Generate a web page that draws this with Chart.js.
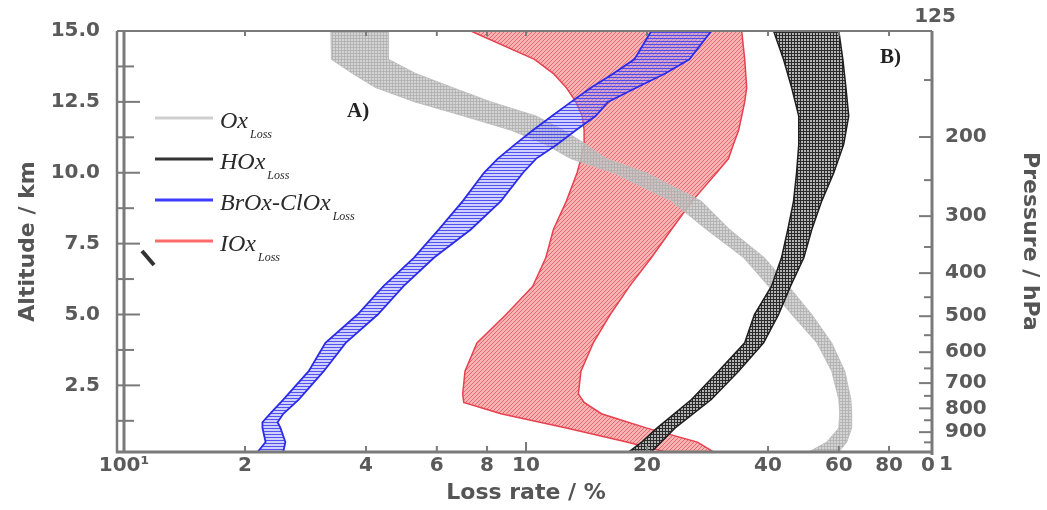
<!DOCTYPE html>
<html>
<head>
<meta charset="utf-8">
<title>Loss rate profiles</title>
<script src="https://cdn.jsdelivr.net/npm/chart.js@4.4.1/dist/chart.umd.min.js"></script>
<style>
    html, body { margin: 0; padding: 0; background: #fff; }
    #wrap { position: relative; width: 1047px; height: 510px; }
</style>
</head>
<body>
<div id="wrap"><canvas id="lossChart" width="1047" height="510"></canvas></div>
<script>
// altitude (km) with lower / upper loss rate (%) for each family
var oxAlt = [15, 14, 13.5, 13, 12.5, 12, 11.5, 11, 10.5, 10, 9, 8, 7, 6, 5, 4, 3, 2, 1.5, 1, 0.5, 0.15];
var oxMin = [3.27, 3.28, 3.7, 4.23, 5.29, 7.0, 9.18, 11.2, 12.9, 16.5, 23.0, 28.1, 34.8, 40.1, 45.8, 52.9, 57.6, 60.0, 60.3, 60.0, 56.0, 50.5];
var oxMax = [4.55, 4.55, 5.32, 6.58, 8.18, 10.6, 12.4, 14.1, 15.8, 19.9, 27.3, 32.1, 39.2, 45.0, 51.4, 57.6, 62.1, 64.3, 64.6, 64.6, 62.8, 60.0];

var hoxAlt = [15, 14, 13, 12, 11, 10, 9, 8, 7, 6, 5, 4, 3, 2, 1, 0.5, 0.15];
var hoxMin = [41.3, 43.7, 45.8, 47.7, 47.7, 47.1, 46.3, 44.8, 43.2, 40.8, 37.0, 35.0, 30.1, 25.8, 21.2, 19.4, 18.0];
var hoxMax = [60.0, 61.4, 62.5, 63.5, 61.7, 58.3, 54.4, 51.4, 49.1, 45.5, 42.5, 39.0, 33.8, 28.9, 23.5, 21.7, 20.5];

var broxAlt = [15, 14, 13.5, 13, 12.5, 12, 11.5, 11, 10.5, 10, 9, 8, 7, 6, 5, 4, 3, 2, 1.5, 1.2, 1, 0.5, 0.15];
var broxMin = [20.5, 18.6, 16.5, 14.5, 12.95, 11.6, 10.4, 9.39, 8.51, 7.86, 6.96, 6.07, 5.26, 4.42, 3.81, 3.17, 2.88, 2.49, 2.31, 2.21, 2.21, 2.25, 2.15];
var broxMax = [28.9, 25.5, 22.2, 18.8, 16.0, 14.9, 13.3, 11.95, 10.6, 9.83, 8.66, 7.29, 5.90, 4.96, 4.28, 3.56, 3.14, 2.72, 2.49, 2.41, 2.45, 2.52, 2.49];

var ioxAlt = [15, 14, 13.5, 13, 12.5, 12, 11.5, 11, 10.5, 10, 9, 8, 7, 6, 5, 4, 3, 2.2, 1.9, 1.5, 1, 0.5, 0.15];
var ioxMin = [7.29, 10.5, 11.7, 12.6, 13.3, 13.8, 13.95, 13.95, 13.7, 13.4, 12.6, 11.7, 11.2, 10.4, 8.92, 7.55, 7.05, 6.96, 7.0, 8.66, 12.6, 17.8, 22.3];
var ioxMax = [34.4, 35.0, 35.2, 35.4, 35.0, 34.4, 33.8, 32.8, 31.9, 29.8, 25.9, 23.0, 20.5, 18.1, 16.2, 14.7, 13.7, 13.5, 13.95, 15.4, 19.9, 26.7, 29.3];

// axes
var lossTicks = [1, 2, 4, 6, 8, 10, 20, 40, 60, 80, 100];
var lossTickLabels = ['100\u00b9', '2', '4', '6', '8', '10', '20', '40', '60', '80', '0'];
var altTicks = [2.5, 5, 7.5, 10, 12.5, 15];
var altMinor = [1.25, 3.75, 6.25, 8.75, 11.25, 13.75];
var pressureLabels = ['200', '300', '400', '500', '600', '700', '800', '900'];
var pressureAlt = [11.26, 8.47, 6.46, 4.94, 3.67, 2.58, 1.69, 0.85];
var pressureMinorAlt = [13.27, 9.74, 7.38, 5.61, 4.27, 3.10, 2.13, 1.27, 0.49];
var pressureEndLabels = ['125', '1'];

var legendNames = ['Ox', 'HOx', 'BrOx-ClOx', 'IOx'];
var legendColors = ['#cfcfcf', '#333333', '#3d3dff', '#ff6b6b'];

Chart.defaults.font.family = "'DejaVu Sans', Arial, sans-serif";

// closed polygon: lower edge top->bottom, upper edge back up
function band(alt, lo, hi) {
    var pts = [];
    for (var i = 0; i < alt.length; i++) pts.push({x: lo[i], y: alt[i]});
    for (var j = alt.length - 1; j >= 0; j--) pts.push({x: hi[j], y: alt[j]});
    return pts;
}

function hatch(bg, stroke, kind, size) {
    var c = document.createElement('canvas');
    c.width = size; c.height = size;
    var g = c.getContext('2d');
    g.fillStyle = bg;
    g.fillRect(0, 0, size, size);
    g.strokeStyle = stroke;
    g.lineWidth = 1;
    g.beginPath();
    if (kind === 'h' || kind === 'grid') { g.moveTo(0, size - 0.5); g.lineTo(size, size - 0.5); }
    if (kind === 'grid') { g.moveTo(size - 0.5, 0); g.lineTo(size - 0.5, size); }
    if (kind === 'diag') {
        g.moveTo(0, size); g.lineTo(size, 0);
        g.moveTo(-1, 1); g.lineTo(1, -1);
        g.moveTo(size - 1, size + 1); g.lineTo(size + 1, size - 1);
    }
    g.stroke();
    return g.createPattern(c, 'repeat');
}

function bandSet(label, pts, border, width, fillStyle) {
    return {
        label: label,
        data: pts,
        borderColor: border,
        borderWidth: width,
        backgroundColor: fillStyle,
        fill: 'shape',
        pointRadius: 0,
        tension: 0
    };
}

// vertical axes: fixed width, no extra room above/below for end labels
function fixWidth(w) {
    return function(s) {
        s.width = w;
        s.paddingTop = 0;
        s.paddingBottom = 0;
    };
}

var framePlugin = {
    id: 'frame',
    afterDraw: function(chart) {
        var c = chart.ctx, a = chart.chartArea;
        var xs = chart.scales.x, ys = chart.scales.y, ps = chart.scales.y2;
        var i, px;
        function seg(x1, y1, x2, y2) { c.beginPath(); c.moveTo(x1, y1); c.lineTo(x2, y2); c.stroke(); }

        c.save();
        c.strokeStyle = '#7a7a7a';
        c.lineWidth = 2; seg(a.left - 7, a.top, a.right + 4, a.top);
        c.lineWidth = 3; seg(a.left - 8, a.bottom, a.right + 4, a.bottom);
        c.lineWidth = 3; seg(a.left, a.top, a.left, a.bottom);
        c.lineWidth = 2.5; seg(a.left - 7, a.top, a.left - 7, a.bottom + 1);
        c.lineWidth = 3; seg(a.right + 4, a.top, a.right + 4, a.bottom + 3);

        // inward tick marks
        c.lineWidth = 2;
        for (i = 0; i < altTicks.length; i++) {
            px = ys.getPixelForValue(altTicks[i]);
            seg(a.left - 7, px, a.left + 16, px);
        }
        for (i = 0; i < altMinor.length; i++) {
            px = ys.getPixelForValue(altMinor[i]);
            seg(a.left - 7, px, a.left + 10, px);
        }
        for (i = 1; i < lossTicks.length - 1; i++) {
            px = xs.getPixelForValue(lossTicks[i]);
            seg(px, a.bottom, px, a.bottom - (lossTicks[i] === 10 ? 10 : 6));
            seg(px, a.top, px, a.top + 5);
        }
        for (i = 0; i < pressureAlt.length; i++) {
            px = ps.getPixelForValue(pressureAlt[i]);
            seg(a.right + 4, px, a.right - 9, px);
        }
        for (i = 0; i < pressureMinorAlt.length; i++) {
            px = ps.getPixelForValue(pressureMinorAlt[i]);
            seg(a.right + 4, px, a.right - 4, px);
        }

        // pressure labels sitting past the axis ends
        c.fillStyle = '#5a5a5a';
        c.font = "bold 20px 'DejaVu Sans'";
        c.textAlign = 'center';
        c.textBaseline = 'middle';
        c.fillText(pressureEndLabels[0], a.right + 7, ps.getPixelForValue(15) - 14);
        c.fillText(pressureEndLabels[1], a.right + 18, ps.getPixelForValue(0.15) + 13);

        // panel letters
        c.fillStyle = '#222';
        c.font = "bold 21px 'Liberation Serif', 'DejaVu Serif', serif";
        c.textAlign = 'left';
        c.fillText('A)', 347, 112);
        c.fillText('B)', 880, 58);

        // stray mark left of the legend
        c.strokeStyle = '#333';
        c.lineWidth = 4;
        seg(142, 251, 154, 265);

        // legend
        for (i = 0; i < legendNames.length; i++) {
            var ly = 118 + i * 41;
            c.strokeStyle = legendColors[i];
            c.lineWidth = 3;
            seg(155, ly, 213, ly);
            c.fillStyle = '#2a2a2a';
            c.textBaseline = 'alphabetic';
            c.font = "italic 24px 'Liberation Serif', 'DejaVu Serif', serif";
            c.fillText(legendNames[i], 220, ly + 10);
            var w = c.measureText(legendNames[i]).width;
            c.font = "italic 12px 'Liberation Serif', 'DejaVu Serif', serif";
            c.fillText('Loss', 222 + w, ly + 20);
        }
        c.restore();
    }
};

var tickFont = {family: "'DejaVu Sans'", size: 20, weight: 'bold'};
var titleFont = {family: "'DejaVu Sans'", size: 22, weight: 'bold'};

var lossChart = new Chart(document.getElementById('lossChart'), {
    type: 'line',
    data: {
        datasets: [
            bandSet('HOx', band(hoxAlt, hoxMin, hoxMax), '#1e1e1e', 1.5, hatch('#b4b4b4', '#2a2a2a', 'grid', 3)),
            bandSet('BrOx-ClOx', band(broxAlt, broxMin, broxMax), '#2b2bea', 1.8, hatch('rgba(150,150,255,0.45)', 'rgba(60,60,240,0.85)', 'h', 3)),
            bandSet('Ox', band(oxAlt, oxMin, oxMax), 'rgba(190,190,190,0.9)', 1, hatch('rgba(200,200,200,0.8)', 'rgba(175,175,175,0.8)', 'grid', 3)),
            bandSet('IOx', band(ioxAlt, ioxMin, ioxMax), '#e8404f', 1.5, hatch('rgba(248,160,160,0.8)', 'rgba(220,80,90,0.75)', 'diag', 4))
        ]
    },
    options: {
        responsive: false,
        animation: false,
        layout: {padding: {top: 31, left: 0, right: 0, bottom: 0}},
        plugins: {
            legend: {display: false},
            tooltip: {enabled: false}
        },
        scales: {
            x: {
                type: 'logarithmic',
                min: 1,
                max: 100,
                bounds: 'data',
                afterBuildTicks: function(s) { s.ticks = lossTicks.map(function(v) { return {value: v}; }); },
                afterFit: function(s) { s.height = 58; },
                grid: {display: false, drawTicks: false},
                border: {display: false},
                ticks: {
                    autoSkip: false,
                    maxRotation: 0,
                    padding: 2,
                    color: '#5a5a5a',
                    font: tickFont,
                    callback: function(v, i) { return lossTickLabels[i]; }
                },
                title: {display: true, text: 'Loss rate / %', color: '#555', font: titleFont, padding: {top: 0, bottom: 4}}
            },
            y: {
                type: 'linear',
                position: 'left',
                min: 0.15,
                max: 15,
                bounds: 'data',
                afterBuildTicks: function(s) { s.ticks = altTicks.map(function(v) { return {value: v}; }); },
                afterFit: fixWidth(124),
                grid: {display: false, drawTicks: false},
                border: {display: false},
                ticks: {
                    padding: 24,
                    color: '#5a5a5a',
                    font: tickFont,
                    callback: function(v) { return Number(v).toFixed(1); }
                },
                title: {display: true, text: 'Altitude / km', color: '#555', font: titleFont, padding: {top: 15, bottom: 0}}
            },
            y2: {
                type: 'linear',
                position: 'right',
                min: 0.15,
                max: 15,
                bounds: 'data',
                afterBuildTicks: function(s) { s.ticks = pressureAlt.map(function(v) { return {value: v}; }); },
                afterFit: fixWidth(119),
                grid: {display: false, drawTicks: false},
                border: {display: false},
                ticks: {
                    padding: 17,
                    color: '#5a5a5a',
                    font: tickFont,
                    callback: function(v, i) { return pressureLabels[i]; }
                },
                title: {display: true, text: 'Pressure / hPa', color: '#555', font: titleFont, padding: {top: 4, bottom: 0}}
            }
        }
    },
    plugins: [framePlugin]
});
</script>
</body>
</html>
